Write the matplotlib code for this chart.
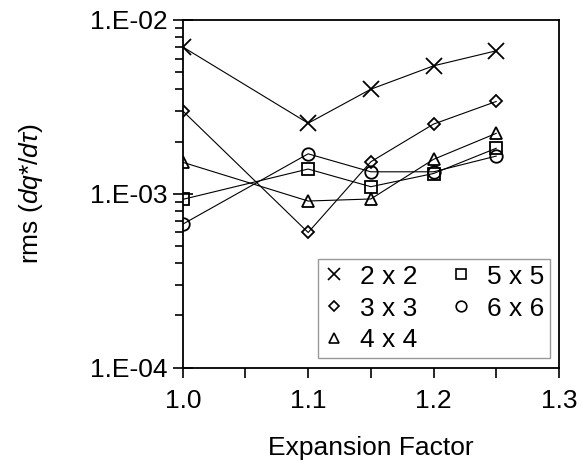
import matplotlib
matplotlib.use("Agg")
import matplotlib.pyplot as plt
from matplotlib.lines import Line2D
from matplotlib.ticker import LogLocator, MultipleLocator, NullFormatter

plt.rcParams['font.family'] = ['Liberation Sans', 'DejaVu Sans']
plt.rcParams['mathtext.fontset'] = 'custom'
plt.rcParams['mathtext.rm'] = 'Liberation Sans'
plt.rcParams['mathtext.it'] = 'Liberation Sans:italic'

# expansion factor values
factors = [1.0, 1.1, 1.15, 1.2, 1.25]

# rms values per grid size
rms_2x2 = [7.0e-3, 2.55e-3, 4.0e-3, 5.45e-3, 6.65e-3]
rms_3x3 = [3.0e-3, 6.0e-4, 1.53e-3, 2.52e-3, 3.4e-3]
rms_4x4 = [1.52e-3, 9.1e-4, 9.35e-4, 1.58e-3, 2.23e-3]
rms_5x5 = [9.3e-4, 1.39e-3, 1.10e-3, 1.31e-3, 1.83e-3]
rms_6x6 = [6.7e-4, 1.70e-3, 1.34e-3, 1.34e-3, 1.65e-3]

labels = ['2 x 2', '3 x 3', '4 x 4', '5 x 5', '6 x 6']
markers = ['x', 'D', '^', 's', 'o']
sizes = [11, 6.5, 9, 8.5, 9]

ytick_vals = [1e-4, 1e-3, 1e-2]
ytick_labels = ['1.E-04', '1.E-03', '1.E-02']
xtick_vals = [1.0, 1.1, 1.2, 1.3]
xtick_labels = ['1.0', '1.1', '1.2', '1.3']

fs = 19

fig = plt.figure(figsize=(5.84, 4.65), dpi=100)
ax = fig.add_axes([0.313, 0.209, 0.644, 0.748])

series = [rms_2x2, rms_3x3, rms_4x4, rms_5x5, rms_6x6]
handles = []
for vals, lab, m, ms in zip(series, labels, markers, sizes):
    ax.plot(factors, vals, color='black', linewidth=0.8, marker=m,
            markersize=ms, markerfacecolor='none', markeredgecolor='black',
            markeredgewidth=1.3)
    handles.append(Line2D([], [], linestyle='none', marker=m,
                          markersize=ms * 0.85, markerfacecolor='none',
                          markeredgecolor='black', markeredgewidth=1.2,
                          label=lab))

ax.set_yscale('log')
ax.set_ylim(1e-4, 1e-2)
ax.set_xlim(1.0, 1.3)
ax.set_yticks(ytick_vals)
ax.set_yticklabels(ytick_labels)
ax.yaxis.set_minor_locator(LogLocator(base=10, subs=range(2, 10)))
ax.yaxis.set_minor_formatter(NullFormatter())
ax.set_xticks(xtick_vals)
ax.set_xticklabels(xtick_labels)
ax.xaxis.set_minor_locator(MultipleLocator(0.05))

ax.tick_params(axis='y', which='major', direction='inout', length=14,
               width=1.2, labelsize=fs, pad=4)
ax.tick_params(axis='y', which='minor', direction='out', length=6, width=1.2)
ax.tick_params(axis='x', which='both', direction='out', length=7, width=1.2,
               labelsize=fs, pad=8)
for sp in ax.spines.values():
    sp.set_linewidth(1.3)

ax.set_xlabel('Expansion Factor', fontsize=fs, labelpad=17)
ax.set_ylabel(r'rms ($dq$*$/d\tau$)', fontsize=fs, labelpad=32)

leg = ax.legend(handles=handles, ncol=2, loc='lower right',
                bbox_to_anchor=(0.976, 0.029), fontsize=fs, frameon=True,
                fancybox=False, edgecolor='#808080', handlelength=0.8,
                handletextpad=0.6, labelspacing=0.3, columnspacing=1.25,
                borderpad=0.2, borderaxespad=0)
leg.get_frame().set_linewidth(1.0)

fig.savefig('out.png', dpi=100)
